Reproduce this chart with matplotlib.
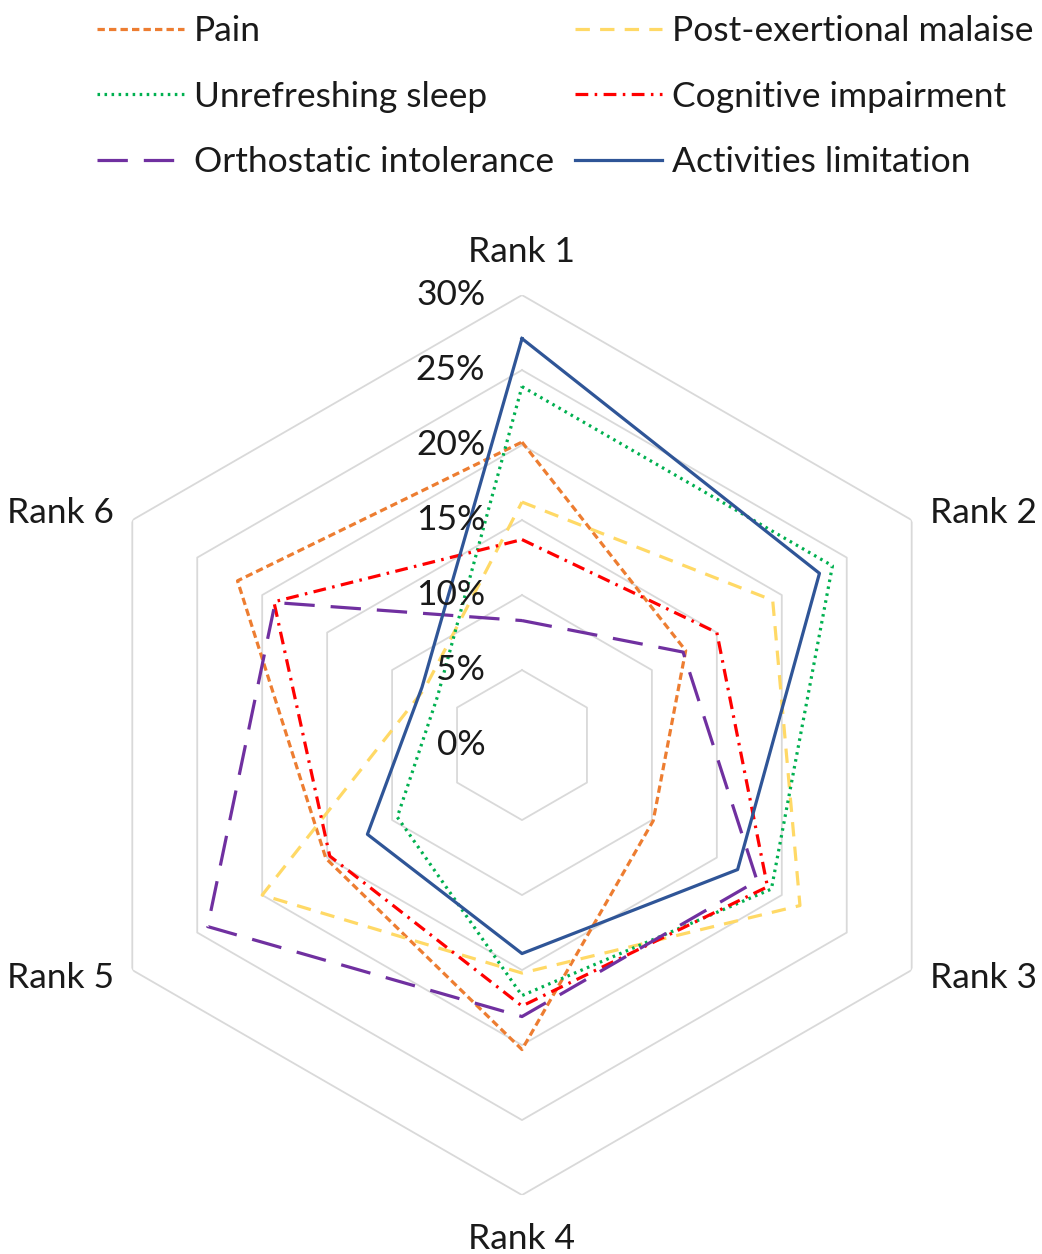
import numpy as np
import matplotlib.pyplot as plt

plt.rcParams["font.family"] = ["Lato", "DejaVu Sans"]

# ranks on the spokes, clockwise from the top
categories = ["Rank 1", "Rank 2", "Rank 3", "Rank 4", "Rank 5", "Rank 6"]
ring_values = [0, 5, 10, 15, 20, 25, 30]
ring_labels = ["0%", "5%", "10%", "15%", "20%", "25%", "30%"]

# share of respondents (%) per rank
pain = [20.2, 12.6, 10.1, 20.3, 15.1, 21.9]
post_exertional_malaise = [16.2, 19.3, 21.4, 15.2, 20.0, 7.5]
unrefreshing_sleep = [23.9, 23.9, 19.2, 16.7, 9.6, 6.5]
cognitive_impairment = [13.7, 15.0, 18.9, 17.4, 14.8, 19.1]
orthostatic_intolerance = [8.3, 12.4, 18.1, 18.1, 24.2, 19.0]
activities_limitation = [27.1, 22.9, 16.6, 13.9, 11.9, 7.7]

series = [
    ("Pain", pain, "#ED7D31", (0, (2.3, 1.3))),
    ("Post-exertional malaise", post_exertional_malaise, "#FFD966", (0, (4.5, 3.2))),
    ("Unrefreshing sleep", unrefreshing_sleep, "#00B050", (0, (0.8, 1.4))),
    ("Cognitive impairment", cognitive_impairment, "#FF0000", (0, (4.0, 2.0, 0.8, 2.0))),
    ("Orthostatic intolerance", orthostatic_intolerance, "#7030A0", (0, (9.5, 5.0))),
    ("Activities limitation", activities_limitation, "#2F5597", "-"),
]

TEXT = "#1a1a1a"
GRID = "#D9D9D9"
FS = 25.5

fig = plt.figure(figsize=(10.42, 12.54), dpi=100)
ax = fig.add_axes([0.0691, 0.0470, 0.8637, 0.7177], projection="polar")
ax.set_theta_offset(np.pi / 2)
ax.set_theta_direction(-1)
ax.set_ylim(0, 30)
ax.grid(False)
ax.spines["polar"].set_visible(False)
ax.set_xticks([])
ax.set_yticks([])
ax.patch.set_alpha(0)

angles = np.linspace(0, 2 * np.pi, len(categories), endpoint=False)
closed_angles = np.append(angles, angles[0])

# hexagonal gridlines
for r in ring_values[1:]:
    ax.plot(closed_angles, [r] * len(closed_angles), color=GRID, lw=1.3, zorder=1)

for name, vals, color, ls in series:
    ax.plot(closed_angles, vals + vals[:1], color=color, linestyle=ls, lw=2.3,
            label=name, zorder=3)

for r, lab in zip(ring_values, ring_labels):
    ax.annotate(lab, xy=(0, r), xytext=(-26.5, 0), textcoords="offset points",
                ha="right", va="center", fontsize=FS, color=TEXT, zorder=5)

label_offsets = [(0, 31, "center"), (13, 5, "left"), (13, -6, "left"),
                 (0, -32, "center"), (-13, -6, "right"), (-13, 5, "right")]
for ang, cat, (dx, dy, ha) in zip(angles, categories, label_offsets):
    ax.annotate(cat, xy=(ang, 30), xytext=(dx, dy), textcoords="offset points",
                ha=ha, va="center", fontsize=FS, color=TEXT)

handles, labels = ax.get_legend_handles_labels()
order = [0, 2, 4, 1, 3, 5]
fig.legend([handles[i] for i in order], [labels[i] for i in order],
           loc="upper left", bbox_to_anchor=(97 / 1042, 1 - 15 / 1254), ncol=2,
           frameon=False, fontsize=FS, handlelength=2.45, handletextpad=0.28,
           columnspacing=0.6, labelspacing=0.95, borderpad=0, borderaxespad=0,
           labelcolor=TEXT)

fig.savefig("out.png", dpi=100)
